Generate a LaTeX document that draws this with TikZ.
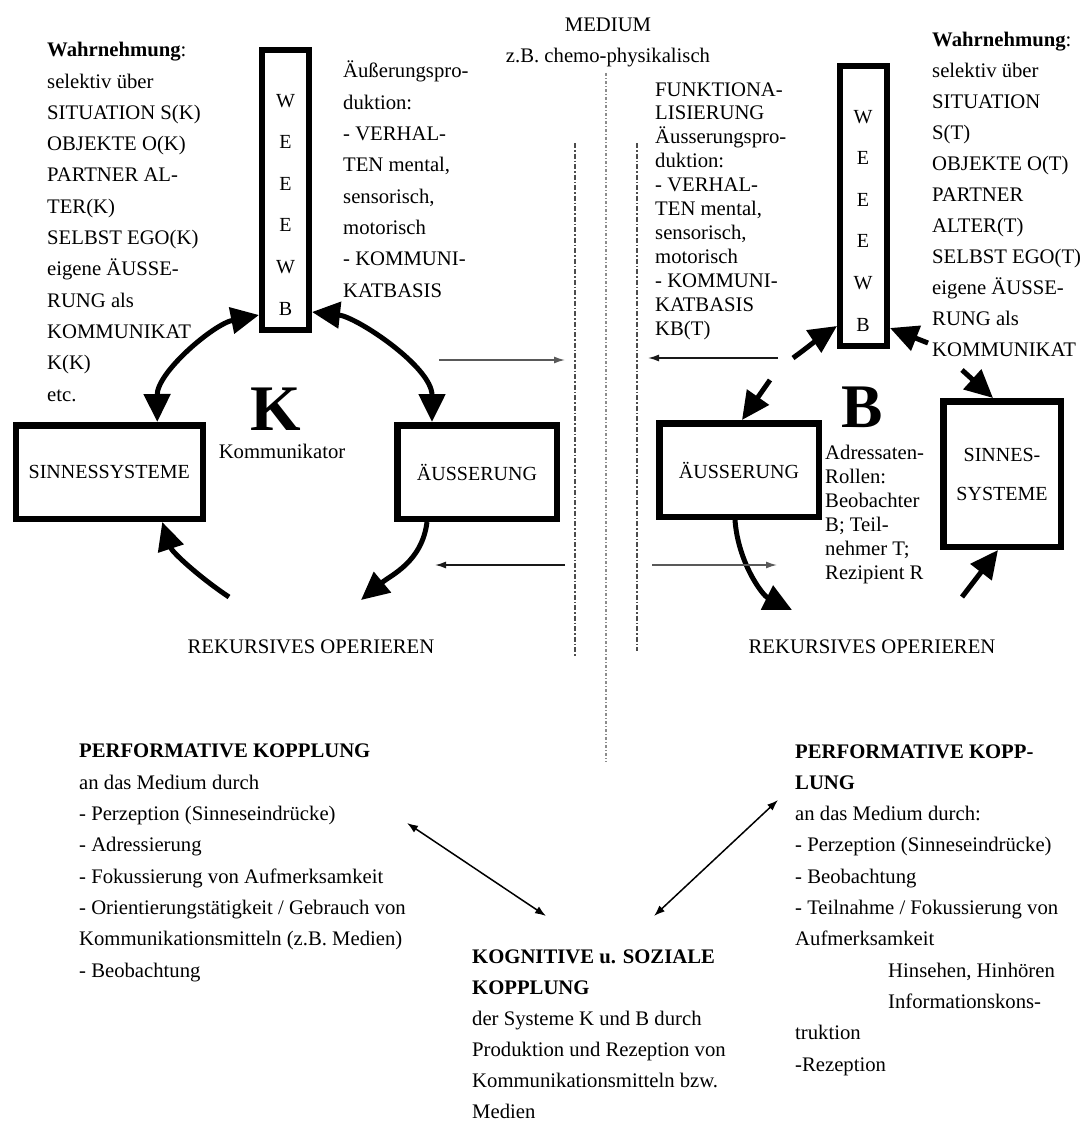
\documentclass[tikz,border=0pt]{standalone}
\usepackage{fontspec}
\setmainfont{Liberation Serif}
\usetikzlibrary{arrows.meta,calc}
\newcommand\fsn{\fontsize{20.7}{31.3}\selectfont}
\newcommand\fsr{\fontsize{20.7}{31}\selectfont}
\newcommand\fsk{\fontsize{20.7}{31}\selectfont}
\newcommand\fsf{\fontsize{20.7}{23.9}\selectfont}
\newcommand\fsa{\fontsize{20.7}{24}\selectfont}
\newcommand\fsbox{\fontsize{20}{24}\selectfont}
\begin{document}
\begin{tikzpicture}[x=1pt,y=-1pt,
  txt/.style={font=\fsn, align=left, inner sep=0pt, anchor=base west},
  ctxt/.style={font=\fsn, inner sep=0pt, anchor=base},
  box/.style={draw, line width=6.5pt, inner sep=0pt, font=\fsbox},
  wbox/.style={draw, line width=6.3pt, inner sep=0pt, minimum width=46.7pt, minimum height=279.7pt},
  wtxt/.style={font=\fontsize{20}{41.6}\selectfont, align=center, inner sep=0pt, anchor=base},
  bigarr/.style={line width=5pt, -{Triangle[length=28pt,width=26pt]}},
  bigdarr/.style={line width=5pt, {Triangle[length=28pt,width=26pt]}-{Triangle[length=28pt,width=26pt]}},
  thinarr/.style={line width=1.5pt, -{Latex[length=11pt,width=7pt]}},
  thindarr/.style={line width=1.5pt, {Latex[length=11pt,width=8pt]}-{Latex[length=11pt,width=8pt]}},
  medline/.style={line width=1.6pt, black!70, dash pattern=on 5pt off 2pt on 1.5pt off 2pt},
  midline/.style={line width=1.4pt, black!45, dash pattern=on 3pt off 2pt on 1pt off 2pt},
]
\path[use as bounding box, fill=white] (0,0) rectangle (1084,1124);

% medium separators
\coordinate (mL1) at (575,143); \coordinate (mL2) at (575,657);
\coordinate (mM1) at (606,73);  \coordinate (mM2) at (606,762);
\coordinate (mR1) at (637,143); \coordinate (mR2) at (637,651);
\draw[medline] (mL1) -- (mL2);
\draw[midline] (mM1) -- (mM2);
\draw[medline] (mR1) -- (mR2);

% texts top (multi-line nodes: anchor = baseline of last line)
\node[txt] (wahrK) at (47,401) {\textbf{Wahrnehmung}:\\selektiv über\\SITUATION S(K)\\OBJEKTE O(K)\\PARTNER AL-\\TER(K)\\SELBST EGO(K)\\eigene ÄUSSE-\\RUNG als\\KOMMUNIKAT\\K(K)\\etc.};
\node[txt] (prodK) at (343,297) {Äußerungspro-\\duktion:\\- VERHAL-\\TEN mental,\\sensorisch,\\motorisch\\- KOMMUNI-\\KATBASIS};
\node[ctxt] (medium) at (608,32) {MEDIUM};
\node[ctxt] (medium2) at (608,63) {z.B. chemo-physikalisch};
\node[txt, font=\fsf] (prodB) at (655,335) {FUNKTIONA-\\LISIERUNG\\Äusserungspro-\\duktion:\\- VERHAL-\\TEN mental,\\sensorisch,\\motorisch\\- KOMMUNI-\\KATBASIS\\KB(T)};
\node[txt, font=\fsr] (wahrB) at (932,356) {\textbf{Wahrnehmung}:\\selektiv über\\SITUATION\\S(T)\\OBJEKTE O(T)\\PARTNER\\ALTER(T)\\SELBST EGO(T)\\eigene ÄUSSE-\\RUNG als\\KOMMUNIKAT};

% WEEEWB boxes
\node[wbox] (weK) at (285.5,190) {};
\node[wtxt] (weKtxt) at (285.5,315) {W\\E\\E\\E\\W\\B};
\node[wbox] (weB) at (863.5,206) {};
\node[wtxt] (weBtxt) at (863,331) {W\\E\\E\\E\\W\\B};

% boxes
\node[box, minimum width=187pt, minimum height=93.5pt] (boxSK) at (109.25,472) {SINNESSYSTEME};
\node[box, minimum width=159.5pt, minimum height=93.5pt] (boxAK) at (477,472) {ÄUSSERUNG};
\node[box, minimum width=159.5pt, minimum height=93.5pt] (boxAB) at (739,470) {ÄUSSERUNG};
\node[box, minimum width=117.5pt, minimum height=145.5pt, align=center, font=\fontsize{20}{39}\selectfont] (boxSB) at (1002,474) {SINNES-\\SYSTEME};

% K and B
\node[inner sep=0pt, anchor=base, font=\fontsize{65}{65}\selectfont\bfseries] (K) at (276,430) {K};
\node[ctxt] (komm) at (282,458) {Kommunikator};
\node[inner sep=0pt, anchor=base, font=\fontsize{62}{62}\selectfont\bfseries] (B) at (862,427) {B};
\node[txt, font=\fsa] (adr) at (825,579) {Adressaten-\\Rollen:\\Beobachter\\B; Teil-\\nehmer T;\\Rezipient R};
\node[ctxt] (rekK) at (311,653) {REKURSIVES OPERIEREN};
\node[ctxt] (rekB) at (872,653) {REKURSIVES OPERIEREN};

% bottom texts
\node[txt] (perfK) at (79,977) {\textbf{PERFORMATIVE KOPPLUNG}\\an das Medium durch\\- Perzeption (Sinneseindrücke)\\- Adressierung\\- Fokussierung von Aufmerksamkeit\\- Orientierungstätigkeit / Gebrauch von\\Kommunikationsmitteln (z.B. Medien)\\- Beobachtung};
\node[txt, font=\fsk] (kog) at (472,1118) {\textbf{KOGNITIVE u. SOZIALE}\\\textbf{KOPPLUNG}\\der Systeme K und B durch\\Produktion und Rezeption von\\Kommunikationsmitteln bzw.\\Medien};
\node[txt] (perfB) at (795,1071) {\textbf{PERFORMATIVE KOPP-}\\\textbf{LUNG}\\an das Medium durch:\\- Perzeption (Sinneseindrücke)\\- Beobachtung\\- Teilnahme / Fokussierung von\\Aufmerksamkeit\\\hspace*{93pt}Hinsehen, Hinhören\\\hspace*{93pt}Informationskons-\\truktion\\-Rezeption};

% thick arrows K side
\coordinate (a3e) at (361,600);
\coordinate (a4s) at (229,597);
\draw[bigdarr] ([yshift=18pt]weK.south west) .. controls (214,324) and (157,372) .. ([xshift=48pt]boxSK.north);
\draw[bigdarr] ([yshift=21pt]weK.south east) .. controls (357,317) and (432,367) .. ([xshift=-45pt]boxAK.north);
\draw[bigarr] ([xshift=-50pt]boxAK.south) .. controls (422,562) and (391,575) .. (a3e);
\draw[bigarr] (a4s) .. controls (199,577) and (172,552) .. ([xshift=53pt]boxSK.south);

% thick arrows B side
\coordinate (b1s) at (793,358);
\coordinate (b2s) at (928,343);
\coordinate (b3s) at (770,380);
\coordinate (b4s) at (962,370);
\coordinate (b5e) at (792,610);
\coordinate (b6s) at (962,597);
\draw[bigarr] (b1s) .. controls (808,347) and (822,336) .. ([yshift=23pt]weB.south west);
\draw[bigarr] (b2s) -- ([yshift=21pt]weB.south east);
\draw[bigarr] (b3s) -- ([xshift=3pt]boxAB.north);
\draw[bigarr] (b4s) -- ([xshift=-9pt]boxSB.north);
\draw[bigarr] ([xshift=-4pt]boxAB.south) .. controls (738,562) and (762,595) .. (b5e);
\draw[bigarr] (b6s) -- ([xshift=-4pt]boxSB.south);

% thin arrows to/from medium
\coordinate (t1s) at (439,360); \coordinate (t1e) at (565,360);
\coordinate (t2s) at (778,358); \coordinate (t2e) at (648,358);
\coordinate (t3s) at (565,565); \coordinate (t3e) at (435,565);
\coordinate (t4s) at (652,565); \coordinate (t4e) at (777,565);
\draw[thinarr, black!65] (t1s) -- (t1e);
\draw[thinarr, black!90] (t2s) -- (t2e);
\draw[thinarr, black!90] (t3s) -- (t3e);
\draw[thinarr, black!65] (t4s) -- (t4e);

% bottom coupling arrows
\coordinate (d1a) at (407,823); \coordinate (d1b) at (546,916);
\coordinate (d2a) at (654,916); \coordinate (d2b) at (778,800);
\draw[thindarr] (d1a) -- (d1b);
\draw[thindarr] (d2a) -- (d2b);
\end{tikzpicture}
\end{document}
